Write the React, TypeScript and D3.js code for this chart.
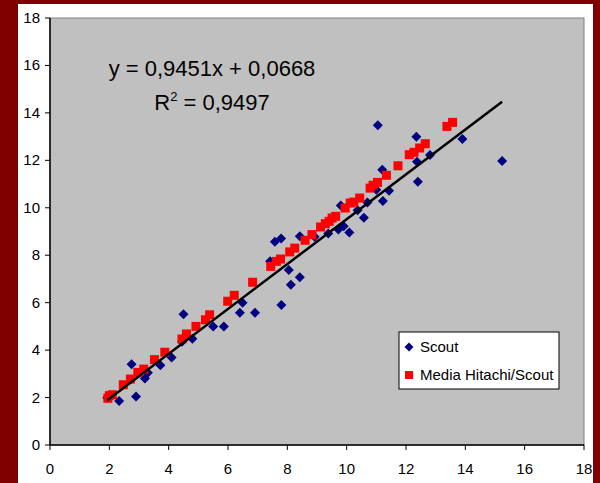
import React from 'react';
import * as d3 from 'd3';

// Scout measurements (x, y)
const scoutX = [1.93, 2.33, 2.75, 2.90, 3.20, 3.30, 3.72, 4.10, 4.45, 4.50, 4.80, 5.50, 5.86, 6.40, 6.49, 6.91, 7.42, 7.58, 7.79, 7.80, 8.05, 8.12, 8.42, 8.42, 8.92, 9.38, 9.72, 9.90, 9.80, 10.09, 10.37, 10.58, 10.70, 11.00, 11.05, 11.20, 11.22, 11.43, 12.35, 12.37, 12.40, 12.81, 13.90, 15.24];
const scoutY = [1.99, 1.85, 3.40, 2.04, 2.80, 3.05, 3.36, 3.69, 4.35, 5.51, 4.48, 5.00, 5.00, 5.57, 6.00, 5.57, 7.75, 8.57, 8.71, 5.90, 7.38, 6.76, 7.07, 8.80, 8.78, 8.92, 9.08, 9.22, 10.10, 8.96, 9.90, 9.58, 10.22, 10.76, 13.48, 11.60, 10.29, 10.72, 12.99, 11.94, 11.10, 12.23, 12.90, 11.97];

// Media Hitachi/Scout measurements (x, y)
const mediaX = [1.95, 2.00, 2.10, 2.47, 2.71, 2.96, 3.16, 3.52, 3.87, 4.45, 4.60, 4.92, 5.24, 5.38, 5.99, 6.21, 6.83, 7.44, 7.63, 7.77, 8.08, 8.25, 8.60, 8.83, 9.12, 9.28, 9.41, 9.51, 9.63, 9.95, 10.12, 10.24, 10.44, 10.79, 10.89, 11.04, 11.34, 11.73, 12.11, 12.27, 12.46, 12.65, 13.38, 13.57];
const mediaY = [1.97, 2.08, 2.12, 2.54, 2.78, 3.06, 3.20, 3.60, 3.91, 4.47, 4.68, 5.00, 5.28, 5.49, 6.06, 6.31, 6.86, 7.53, 7.74, 7.84, 8.14, 8.30, 8.63, 8.87, 9.19, 9.33, 9.43, 9.57, 9.64, 9.99, 10.20, 10.24, 10.41, 10.83, 10.95, 11.07, 11.37, 11.77, 12.24, 12.34, 12.52, 12.70, 13.43, 13.60];

const ticks = [0, 2, 4, 6, 8, 10, 12, 14, 16, 18];
const slope = 0.9451;
const intercept = 0.0668;
const eqLabel = 'y = 0,9451x + 0,0668';
const r2Value = '0,9497';
const seriesNames = ['Scout', 'Media Hitachi/Scout'];

const W = 600;
const H = 483;
const left = 50, right = 584, top = 18, bottom = 445;
const font = 'Arial, "Liberation Sans", sans-serif';

// square rotated 45deg, like Excel's diamond marker
const diamondPath = (r: number) => `M0,${-r}L${r},0L0,${r}L${-r},0Z`;

export default function App() {
  const x = d3.scaleLinear().domain([0, 18]).range([left, right]);
  const y = d3.scaleLinear().domain([0, 18]).range([bottom, top]);

  const allX = scoutX.concat(mediaX);
  const [x0, x1] = d3.extent(allX) as [number, number];
  const trend = d3.line<number>().x(v => x(v)).y(v => y(slope * v + intercept));

  return (
    <svg width={W} height={H} style={{ position: 'absolute', left: 0, top: 0 }}>
      <rect x={0} y={0} width={W} height={H} fill="#800000" />
      <rect x={18} y={4} width={575} height={H - 4} fill="#ffffff" />
      <rect x={left} y={top} width={right - left} height={bottom - top} fill="#c0c0c0" stroke="#808080" strokeWidth={1} />

      {/* axes */}
      <line x1={left} x2={left} y1={top} y2={bottom} stroke="#000" strokeWidth={1.5} />
      <line x1={left} x2={right} y1={bottom} y2={bottom} stroke="#000" strokeWidth={1.5} />
      {ticks.map(t => (
        <g key={'y' + t}>
          <line x1={left - 5} x2={left} y1={y(t)} y2={y(t)} stroke="#000" />
          <text x={40} y={y(t) + 5} textAnchor="end" fontFamily={font} fontSize={15}>{t}</text>
        </g>
      ))}
      {ticks.map(t => (
        <g key={'x' + t}>
          <line x1={x(t)} x2={x(t)} y1={bottom} y2={bottom + 5} stroke="#000" />
          <text x={x(t)} y={474} textAnchor="middle" fontFamily={font} fontSize={15}>{t}</text>
        </g>
      ))}

      {/* series */}
      {scoutX.map((v, i) => (
        <path key={'s' + i} d={diamondPath(5)} transform={`translate(${x(v)},${y(scoutY[i])})`} fill="#000080" />
      ))}
      {mediaX.map((v, i) => (
        <rect key={'m' + i} x={x(v) - 4.5} y={y(mediaY[i]) - 4.5} width={9} height={9} fill="#ff0000" />
      ))}

      <path d={trend([x0, x1]) ?? ''} stroke="#000" strokeWidth={2.5} fill="none" />

      {/* equation */}
      <text x={212} y={76} textAnchor="middle" fontFamily={font} fontSize={22}>{eqLabel}</text>
      <text x={212} y={110} textAnchor="middle" fontFamily={font} fontSize={22}>
        R<tspan dy={-9} fontSize={13}>2</tspan><tspan dy={9}> = {r2Value}</tspan>
      </text>

      {/* legend */}
      <rect x={399} y={332} width={160} height={57} fill="#fff" stroke="#000" />
      <path d={diamondPath(4.5)} transform="translate(409,347)" fill="#000080" />
      <text x={420} y={352} fontFamily={font} fontSize={15}>{seriesNames[0]}</text>
      <rect x={405} y={371} width={8} height={8} fill="#ff0000" />
      <text x={420} y={380} fontFamily={font} fontSize={15}>{seriesNames[1]}</text>
    </svg>
  );
}
